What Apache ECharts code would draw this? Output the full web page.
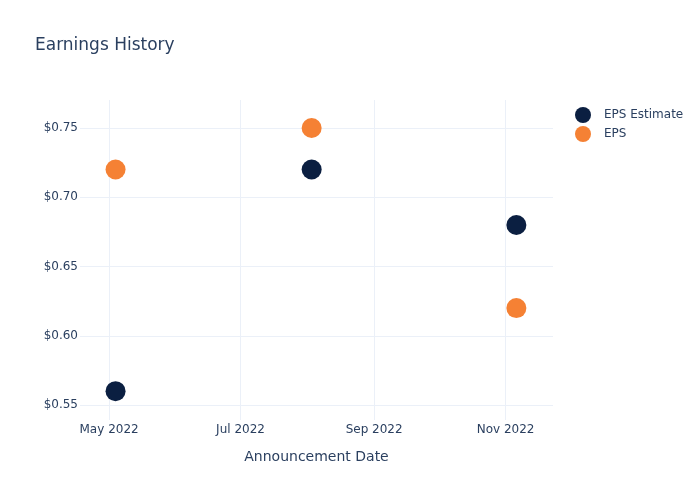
<!DOCTYPE html>
<html>
<head>
<meta charset="utf-8">
<script src="https://cdn.jsdelivr.net/npm/echarts@6/dist/echarts.min.js"></script>
<style>html,body{margin:0;padding:0;background:#fff}#c{width:700px;height:500px}</style>
</head>
<body>
<div id="c"></div>
<script>
const dates = ['2022-05-04', '2022-08-03', '2022-11-06'];
const epsEstimate = [0.56, 0.72, 0.68];
const eps = [0.72, 0.75, 0.62];
const xTicks = ['2022-05-01', '2022-07-01', '2022-09-01', '2022-11-01'];
const yTicks = [0.55, 0.60, 0.65, 0.70, 0.75];

const ts = s => { const [y, m, d] = s.split('-').map(Number); return Date.UTC(y, m - 1, d); };
const months = ['Jan','Feb','Mar','Apr','May','Jun','Jul','Aug','Sep','Oct','Nov','Dec'];
const txt = '#2a3f5f';
const gridC = '#ebf0f8';

const chart = echarts.init(document.getElementById('c'));
chart.setOption({
  animation: false,
  backgroundColor: '#fff',
  title: { text: 'Earnings History', left: 30, top: 32, textStyle: { color: txt, fontSize: 17, fontWeight: 'normal', fontFamily: 'DejaVu Sans' } },
  legend: {
    orient: 'vertical', left: 570, top: 102, itemWidth: 16, itemHeight: 16, itemGap: 3,
    icon: 'circle',
    textStyle: { color: txt, fontSize: 12, fontFamily: 'DejaVu Sans', padding: [0, 0, 0, 8] },
    data: ['EPS Estimate', 'EPS']
  },
  grid: { left: 80, right: 147, top: 100, bottom: 80 },
  xAxis: {
    type: 'value',
    min: ts('2022-04-17') + 12 * 3600e3,
    max: ts('2022-11-23'),
    name: 'Announcement Date', nameLocation: 'middle', nameGap: 30,
    nameTextStyle: { color: txt, fontSize: 14, fontFamily: 'DejaVu Sans' },
    axisLine: { show: false },
    axisTick: { show: false, customValues: xTicks.map(ts) },
    axisLabel: {
      customValues: xTicks.map(ts), color: txt, fontSize: 12, fontFamily: 'DejaVu Sans', margin: 4,
      showMinLabel: true, showMaxLabel: true,
      formatter: v => { const d = new Date(v); return months[d.getUTCMonth()] + ' ' + d.getUTCFullYear(); }
    },
    splitLine: { show: true, lineStyle: { color: gridC, width: 1 } }
  },
  yAxis: {
    type: 'value',
    min: 0.5392, max: 0.7702,
    axisLine: { show: false },
    axisTick: { show: false, customValues: yTicks },
    axisLabel: { customValues: yTicks, color: txt, fontSize: 12, fontFamily: 'DejaVu Sans', margin: 2,
      formatter: v => '$' + v.toFixed(2) },
    splitLine: { show: true, lineStyle: { color: gridC, width: 1 } }
  },
  series: [
    { name: 'EPS Estimate', type: 'scatter', symbolSize: 20, itemStyle: { color: '#0b1f41', opacity: 1 },
      data: dates.map((d, i) => [ts(d), epsEstimate[i]]) },
    { name: 'EPS', type: 'scatter', symbolSize: 20, itemStyle: { color: '#f58134', opacity: 1 },
      data: dates.map((d, i) => [ts(d), eps[i]]) }
  ]
});
</script>
</body>
</html>
